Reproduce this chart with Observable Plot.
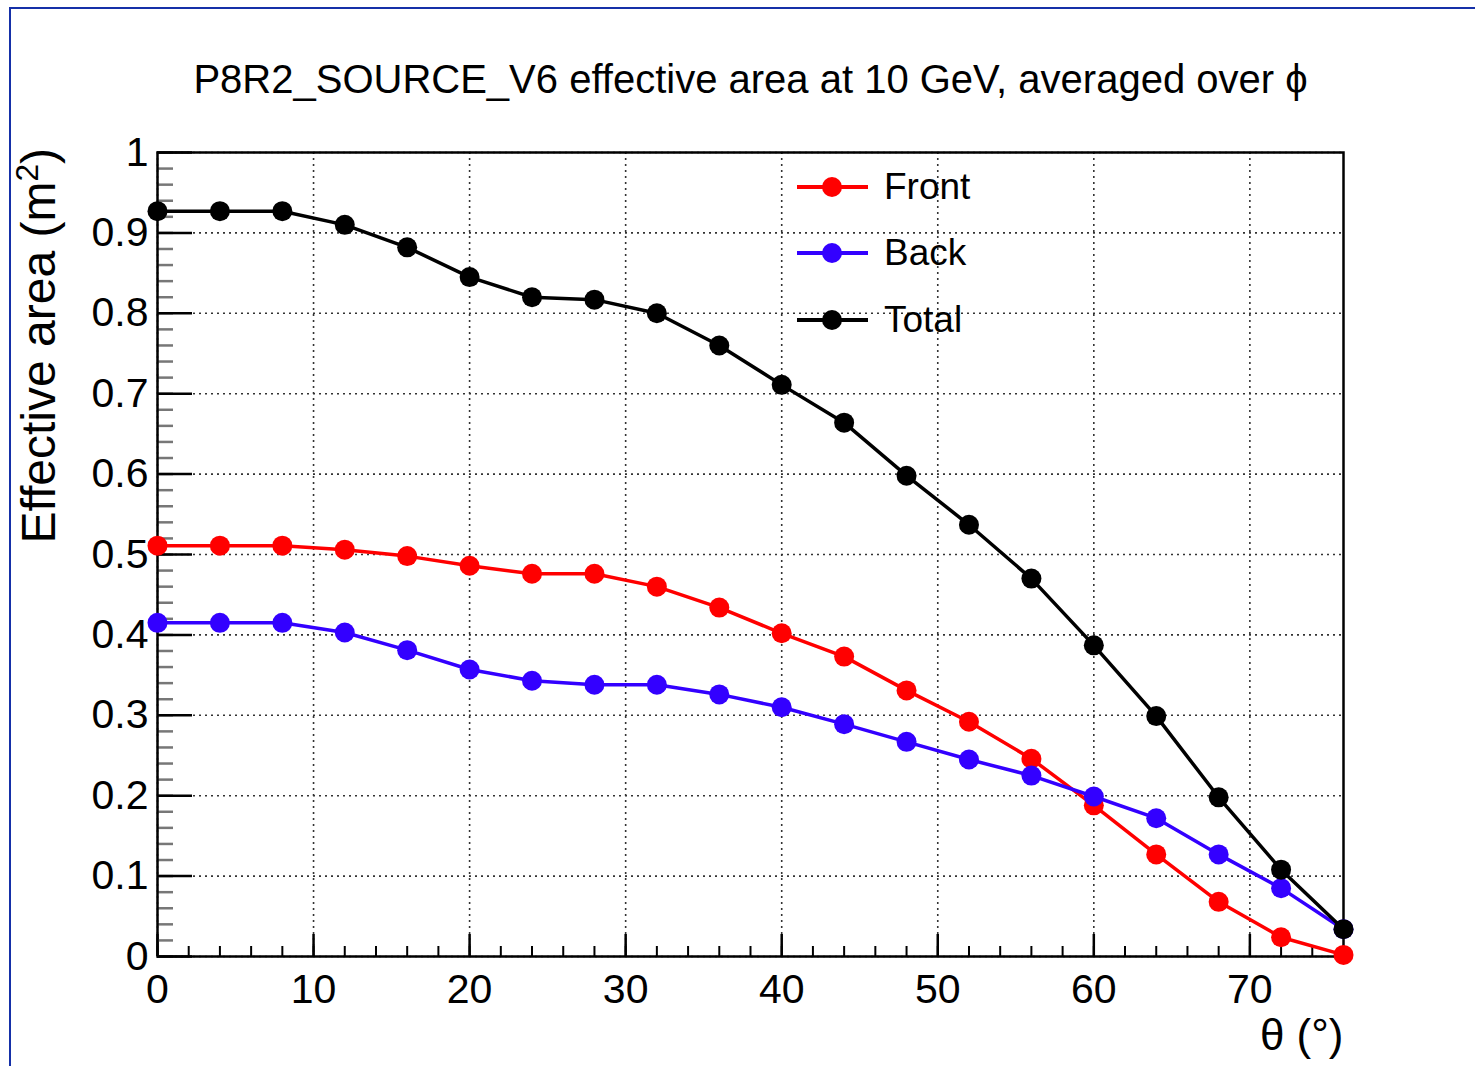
<!DOCTYPE html>
<html><head><meta charset="utf-8">
<script src="https://cdn.jsdelivr.net/npm/d3@7"></script>
<script src="https://cdn.jsdelivr.net/npm/@observablehq/plot@0.6"></script>
<style>
html,body{margin:0;padding:0;background:#fff;overflow:hidden;}
#wrap{position:relative;width:1475px;height:1066px;font-family:"Liberation Sans",Arial,Helvetica,sans-serif;}
#border{position:absolute;left:9px;top:7px;width:1600px;height:1200px;border:2px solid #1530a8;box-sizing:border-box;}
#chart{position:absolute;left:0;top:0;}
#ylabel{position:absolute;left:41px;top:148px;font-size:48px;line-height:48px;white-space:nowrap;color:#000;transform-origin:0 0;transform:rotate(-90deg) translate(-100%,-50%);}
#ylabel .sup{font-size:0.66em;position:relative;top:-0.55em;}
.leg{position:absolute;left:0;top:0;}
.leg .row{position:absolute;height:0;}
.leg .ln{position:absolute;left:797px;width:71px;height:3.5px;margin-top:-1.75px;}
.leg .dt{position:absolute;left:822px;width:20px;height:20px;margin-top:-10px;border-radius:50%;}
.leg .tx{position:absolute;left:884px;font-size:37px;line-height:37px;margin-top:-19px;color:#000;white-space:nowrap;}
</style>
</head><body>
<div id="wrap"><div id="border"></div><div id="chart"></div><div id="ylabel"></div><div class="leg" id="legend"></div></div>
<script>
// ---- data ----
const theta = [0, 4, 8, 12, 16, 20, 24, 28, 32, 36, 40, 44, 48, 52, 56, 60, 64, 68, 72, 76];
const front = [0.511, 0.511, 0.511, 0.506, 0.498, 0.486, 0.476, 0.476, 0.460, 0.434, 0.402, 0.373, 0.331, 0.292, 0.246, 0.188, 0.127, 0.068, 0.024, 0.002];
const back  = [0.415, 0.415, 0.415, 0.403, 0.381, 0.357, 0.343, 0.338, 0.338, 0.326, 0.310, 0.289, 0.267, 0.245, 0.225, 0.199, 0.172, 0.127, 0.085, 0.034];
const total = [0.927, 0.927, 0.927, 0.910, 0.882, 0.845, 0.820, 0.817, 0.800, 0.760, 0.711, 0.664, 0.598, 0.537, 0.470, 0.387, 0.299, 0.198, 0.108, 0.034];
const seriesNames = ["Front", "Back", "Total"];
const seriesColors = ["#ff0000", "#3300ff", "#000000"];
const seriesValues = [front, back, total];
const xMajor = [0, 10, 20, 30, 40, 50, 60, 70];
const xMinor = d3.range(0, 77, 2);
const yMajor = [0, 0.1, 0.2, 0.3, 0.4, 0.5, 0.6, 0.7, 0.8, 0.9, 1];
const yMinor = d3.range(0, 51).map(i => i / 50);
const titleText = "P8R2_SOURCE_V6 effective area at 10 GeV, averaged over \u03d5";
const yLabelMain = "Effective area (m";
const yLabelSup = "2";
const yLabelEnd = ")";
const xLabel = "\u03b8 (\u00b0)";

const font = "'Liberation Sans', Arial, Helvetica, sans-serif";
const rows = seriesNames.map((name, k) => theta.map((t, i) => ({series: name, theta: t, value: seriesValues[k][i], color: seriesColors[k]})));

const seriesMarks = rows.flatMap(r => [
  Plot.line(r, {x: "theta", y: "value", stroke: r[0].color, strokeWidth: 3.5}),
  Plot.dot(r, {x: "theta", y: "value", fill: r[0].color, r: 10})
]);

const chart = Plot.plot({
  width: 1475, height: 1066,
  marginLeft: 157, marginRight: 132, marginTop: 152, marginBottom: 110,
  style: {fontFamily: font, background: "transparent", color: "#000"},
  x: {domain: [0, 76], axis: null},
  y: {domain: [0, 1], axis: null},
  marks: [
    Plot.gridX(xMajor, {stroke: "#333", strokeOpacity: 1, strokeWidth: 1.6, strokeDasharray: "2,4"}),
    Plot.gridY(yMajor, {stroke: "#333", strokeOpacity: 1, strokeWidth: 1.6, strokeDasharray: "2,4"}),
    Plot.axisX(xMinor, {anchor: "bottom", tickSize: -10, text: null, strokeWidth: 2, label: null}),
    Plot.axisX(xMajor, {anchor: "bottom", tickSize: -22, text: null, strokeWidth: 2.5, label: null}),
    Plot.axisY(yMinor, {anchor: "left", tickSize: -16, text: null, strokeWidth: 2.5, label: null, stroke: "#777"}),
    Plot.axisY(yMajor, {anchor: "left", tickSize: -35, text: null, strokeWidth: 2.5, label: null}),
    Plot.axisX(xMajor, {anchor: "bottom", tickSize: 0, tickPadding: 17, fontSize: 41, label: null, tickFormat: d => String(d)}),
    Plot.axisY(yMajor, {anchor: "left", tickSize: 0, tickPadding: 9, fontSize: 41, label: null, tickFormat: d => d === 0 ? "0" : d === 1 ? "1" : d.toFixed(1)}),
    Plot.frame({stroke: "#000", strokeWidth: 2.5}),
    ...seriesMarks,
    Plot.text([titleText], {frameAnchor: "top", dy: -72, fontSize: 40, fill: "#000", lineAnchor: "middle"}),
    Plot.text([xLabel], {frameAnchor: "bottom-right", dy: 79, textAnchor: "end", lineAnchor: "middle", fontSize: 44, fill: "#000"})
  ]
});
document.getElementById("chart").appendChild(chart);

// y-axis label with real superscript
const yl = document.getElementById("ylabel");
yl.append(yLabelMain);
const sup = document.createElement("span");
sup.className = "sup";
sup.textContent = yLabelSup;
yl.append(sup);
yl.append(yLabelEnd);

// legend
const legendY = [187, 253, 320];
const leg = document.getElementById("legend");
seriesNames.forEach((name, k) => {
  const row = document.createElement("div");
  row.className = "row";
  row.style.top = legendY[k] + "px";
  row.innerHTML = `<div class="ln" style="background:${seriesColors[k]}"></div><div class="dt" style="background:${seriesColors[k]}"></div><div class="tx">${name}</div>`;
  leg.appendChild(row);
});
</script>
</body></html>
